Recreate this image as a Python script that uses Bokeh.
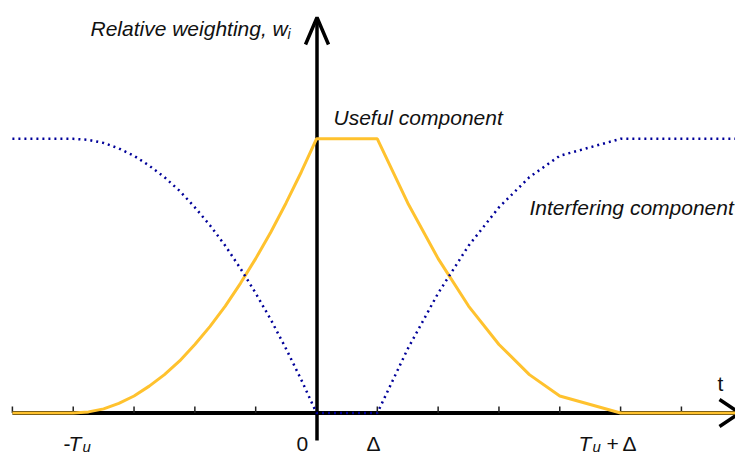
from bokeh.plotting import figure
from bokeh.models import Range1d, Label
from bokeh.embed import file_html
from bokeh.resources import INLINE

# ---- data (t in units of tick spacing; T_u = 4, Delta = 1) ----
t = [-5.0, -4.0, -3.75, -3.5, -3.25, -3.0, -2.75, -2.5, -2.25, -2.0,
     -1.75, -1.5, -1.25, -1.0, -0.75, -0.5, -0.25, 0.0,
     1.0, 1.5, 2.0, 2.5, 3.0, 3.5, 4.0, 5.0, 6.9]
useful = [0.0, 0.0, 0.004, 0.015, 0.035, 0.062, 0.098, 0.14, 0.19, 0.25,
          0.316, 0.39, 0.473, 0.563, 0.66, 0.766, 0.879, 1.0,
          1.0, 0.766, 0.563, 0.39, 0.25, 0.14, 0.062, 0.0, 0.0]
interfering = [1.0, 1.0, 0.996, 0.985, 0.965, 0.938, 0.902, 0.86, 0.81, 0.75,
               0.684, 0.61, 0.527, 0.437, 0.34, 0.234, 0.121, 0.0,
               0.0, 0.234, 0.437, 0.61, 0.75, 0.86, 0.938, 1.0, 1.0]
tick_positions = [-5, -4, -3, -2, -1, 1, 2, 3, 4, 5, 6]

# ---- reference-pixel helpers (for annotations only) ----
X0, UX = 316.0, 60.82
Y0, UY = 412.5, 274.2
def dx(px):
    return (px - X0) / UX
def dy(py):
    return (Y0 - py) / UY

W, H = 735, 457
p = figure(width=W, height=H, output_backend="svg", toolbar_location=None,
           x_range=Range1d(dx(0), dx(W)), y_range=Range1d(dy(H), dy(0)),
           min_border=0, min_border_left=0, min_border_right=0,
           min_border_top=0, min_border_bottom=0)
p.axis.visible = False
p.grid.visible = False
p.outline_line_color = None
p.background_fill_color = "white"
p.border_fill_color = "white"

BLACK = "#000000"
YELLOW = "#FFC22E"
BLUE = "#000099"

# axes
p.line([dx(12), dx(738)], [0, 0], line_color=BLACK, line_width=4)
p.line([dx(316.5), dx(316.5)], [dy(440), dy(18)], line_color=BLACK, line_width=3.5)
# arrow heads
p.line([dx(305), dx(316.5), dx(328)], [dy(44), dy(17), dy(44)],
       line_color=BLACK, line_width=3.5)
p.line([dx(719), dx(739), dx(719)], [dy(399), dy(412.5), dy(426)],
       line_color=BLACK, line_width=3.5)
# tick marks
for tp in tick_positions:
    p.line([tp, tp], [0, dy(406)], line_color="#222222", line_width=1.5)

# curves
p.line(t, useful, line_color=YELLOW, line_width=3)
p.line(t, interfering, line_color=BLUE, line_width=2.5, line_dash="2 4")

FONT = "Liberation Sans"
FS = "21px"
SUB = "14px"
SHIFT = 8  # labels render this much lower than the anchor

def lab(text, x, y, size=FS, style="normal", align="left"):
    p.add_layout(Label(x=dx(x), y=dy(y - SHIFT), text=text, text_font=FONT,
                       text_font_size=size, text_font_style=style,
                       text_align=align, text_baseline="alphabetic",
                       text_color="#111111"))

lab("Relative weighting, w", 90, 36, style="italic")
lab("i", 287, 41, size=SUB, style="italic")
lab("Useful component", 333, 125, style="italic")
lab("Interfering component", 529, 215, style="italic")
lab("t", 717, 391)

BL = 451
lab("-", 63, BL)
lab("T", 68, BL, style="italic")
lab("u", 82, BL + 3, size="15px", style="italic")
lab("0", 296, BL)
lab("\u0394", 366, BL)
lab("T", 578, BL, style="italic")
lab("u", 592, BL + 3, size="15px", style="italic")
lab("+", 606, BL)
lab("\u0394", 622, BL)

open("out.html", "w").write(file_html(p, INLINE))
